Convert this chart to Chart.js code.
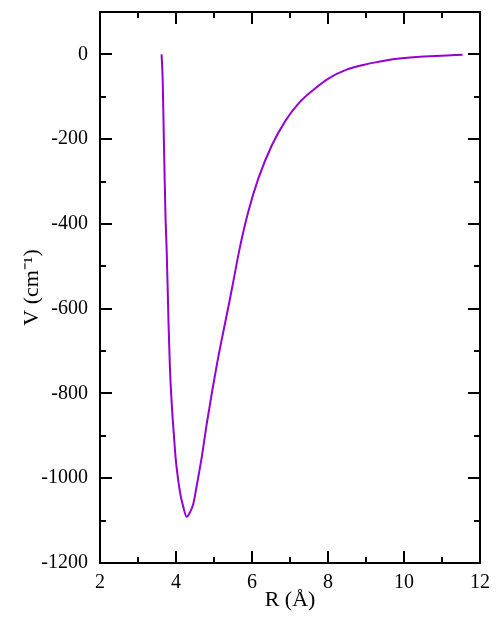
<!DOCTYPE html>
<html>
<head>
<meta charset="utf-8">
<script src="https://cdn.jsdelivr.net/npm/chart.js@4"></script>
<style>
  body { margin: 0; background: #fff; }
  #wrap { width: 500px; height: 620px; }
</style>
</head>
<body>
<div id="wrap"><canvas id="pot_canvas"></canvas></div>
<script>
// potential curve
var r_vals = [3.62, 3.65, 3.675, 3.70, 3.725, 3.755, 3.78, 3.805, 3.84, 3.895,
              3.95, 3.99, 4.03, 4.11, 4.19, 4.28, 4.37, 4.46, 4.54, 4.68,
              4.81, 4.96, 5.09, 5.18, 5.38, 5.51, 5.68, 5.90, 6.17, 6.52,
              6.87, 7.22, 7.61, 8.01, 8.49, 9.02, 9.37, 9.76, 10.33, 11.0,
              11.54];
var v_vals = [0, -61, -175, -288, -387, -464, -549, -640, -740, -835,
              -905, -952, -985, -1035, -1067, -1091, -1080, -1059, -1020, -949,
              -871, -790, -725, -683, -595, -535, -456, -372, -292, -215,
              -158, -116, -84, -57, -36, -23, -17, -11, -6, -3,
              -1];

var x_ticks_major = [2, 4, 6, 8, 10, 12];
var x_ticks_minor = [3, 5, 7, 9, 11];
var y_ticks_major = [-1200, -1000, -800, -600, -400, -200, 0];
var y_ticks_minor = [-1100, -900, -700, -500, -300, -100, 100];

var pts = [];
for (i = 0; i < r_vals.length; i++) {
    pts.push({x: r_vals[i], y: v_vals[i]});
}

// grace style frame with inward ticks on every side
var frame_plugin = {
    id: 'frame_ticks',
    afterDraw: function (chart) {
        var ctx = chart.ctx;
        var a = chart.chartArea;
        var xs = chart.scales.x;
        var ys = chart.scales.y;
        ctx.save();
        ctx.strokeStyle = '#000';
        ctx.lineWidth = 2;
        ctx.strokeRect(a.left, a.top, a.right - a.left, a.bottom - a.top);
        ctx.beginPath();
        function xt(vals, len) {
            for (v of vals) {
                var p = Math.round(xs.getPixelForValue(v));
                ctx.moveTo(p, a.bottom); ctx.lineTo(p, a.bottom - len);
                ctx.moveTo(p, a.top); ctx.lineTo(p, a.top + len);
            }
        }
        function yt(vals, len) {
            for (v of vals) {
                var p = Math.round(ys.getPixelForValue(v));
                ctx.moveTo(a.left, p); ctx.lineTo(a.left + len, p);
                ctx.moveTo(a.right, p); ctx.lineTo(a.right - len, p);
            }
        }
        xt(x_ticks_major, 12);
        xt(x_ticks_minor, 6);
        yt(y_ticks_major, 12);
        yt(y_ticks_minor, 6);
        ctx.stroke();
        ctx.restore();
    }
};

new Chart(document.getElementById('pot_canvas'), {
    type: 'scatter',
    data: {
        datasets: [{
            data: pts,
            showLine: true,
            borderColor: '#9400d3',
            borderWidth: 2,
            pointRadius: 0,
            cubicInterpolationMode: 'monotone'
        }]
    },
    plugins: [frame_plugin],
    options: {
        responsive: true,
        maintainAspectRatio: false,
        animation: false,
        layout: {padding: {top: 12, right: 20, left: 0, bottom: 0}},
        plugins: {legend: {display: false}, tooltip: {enabled: false}},
        scales: {
            x: {
                type: 'linear',
                min: 2,
                max: 12,
                grid: {display: false},
                border: {display: false},
                ticks: {
                    stepSize: 2,
                    includeBounds: false,
                    color: '#000',
                    padding: 0,
                    maxRotation: 0,
                    callback: function (v) { return String(v); },
                    font: {family: 'Liberation Serif', size: 20}
                },
                title: {
                    display: true,
                    text: 'R (Å)',
                    color: '#000',
                    padding: {top: 0, bottom: 7},
                    font: {family: 'Liberation Serif', size: 22}
                },
                afterFit: function (s) {
                    s.height = 57;
                    s.paddingLeft = 0;
                    s.paddingRight = 0;
                }
            },
            y: {
                type: 'linear',
                min: -1200,
                max: 100,
                grid: {display: false},
                border: {display: false},
                ticks: {
                    stepSize: 200,
                    includeBounds: false,
                    color: '#000',
                    padding: 4,
                    callback: function (v) { return String(v); },
                    font: {family: 'Liberation Serif', size: 20}
                },
                title: {
                    display: true,
                    text: 'V (cm⁻¹)',
                    color: '#000',
                    padding: {top: 19, bottom: 0},
                    font: {family: 'Liberation Serif', size: 22}
                },
                afterFit: function (s) {
                    s.width = 100;
                    s.paddingTop = 0;
                    s.paddingBottom = 0;
                }
            }
        }
    }
});
</script>
</body>
</html>
